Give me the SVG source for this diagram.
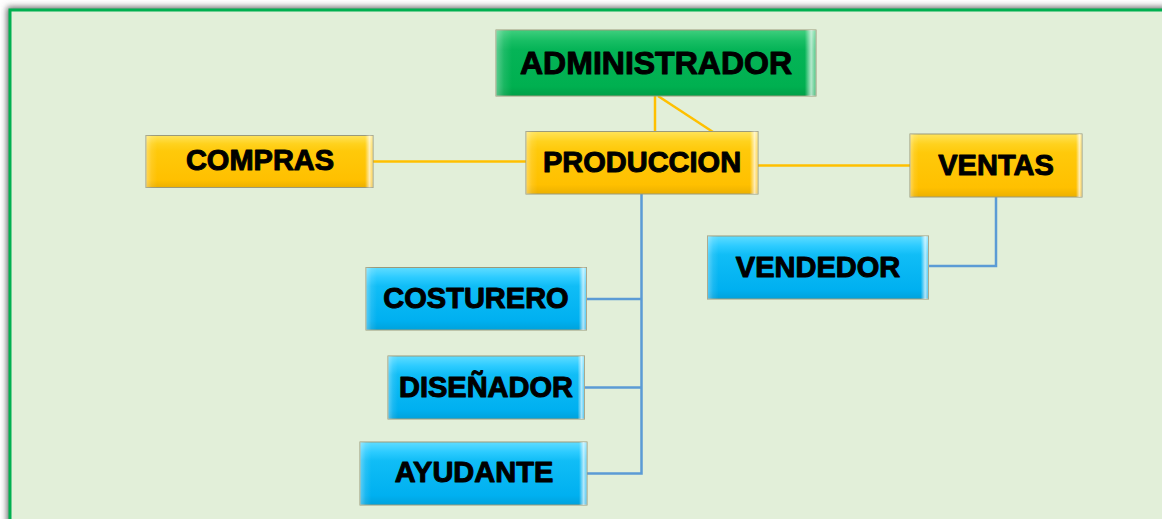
<svg xmlns="http://www.w3.org/2000/svg" width="1162" height="519" viewBox="0 0 1162 519">
<defs>
<filter id="blur" x="-5%" y="-5%" width="110%" height="110%"><feGaussianBlur stdDeviation="3"/></filter>
<linearGradient id="gY" x1="0" y1="0" x2="0" y2="1">
<stop offset="0" stop-color="#ffe35a"/><stop offset="0.16" stop-color="#ffd21e"/><stop offset="0.3" stop-color="#ffc90a"/><stop offset="0.85" stop-color="#ffc000"/><stop offset="1" stop-color="#ecb000"/>
</linearGradient>
<linearGradient id="gG" x1="0" y1="0" x2="0" y2="1">
<stop offset="0" stop-color="#3fcf7e"/><stop offset="0.16" stop-color="#18be64"/><stop offset="0.3" stop-color="#05b457"/><stop offset="0.85" stop-color="#00b050"/><stop offset="1" stop-color="#00a048"/>
</linearGradient>
<linearGradient id="gB" x1="0" y1="0" x2="0" y2="1">
<stop offset="0" stop-color="#5fdcff"/><stop offset="0.16" stop-color="#2ccbff"/><stop offset="0.3" stop-color="#10bdf6"/><stop offset="0.85" stop-color="#00b0f0"/><stop offset="1" stop-color="#00a2dc"/>
</linearGradient>
<linearGradient id="gH" x1="0" y1="0" x2="1" y2="0">
<stop offset="0" stop-color="#fff" stop-opacity="0.35"/><stop offset="0.025" stop-color="#fff" stop-opacity="0.1"/><stop offset="0.05" stop-color="#fff" stop-opacity="0"/><stop offset="0.965" stop-color="#fff" stop-opacity="0"/><stop offset="0.985" stop-color="#fff" stop-opacity="0.7"/><stop offset="1" stop-color="#fff" stop-opacity="0.3"/>
</linearGradient>
</defs>
<style>
.box{stroke:#9a9a7a;stroke-width:1}
.y{fill:url(#gY)}
.g{fill:url(#gG)}
.b{fill:url(#gB)}
.hl{fill:url(#gH);stroke:none}
.t{font-family:"Liberation Sans",Arial,sans-serif;font-weight:bold;font-size:29px;fill:#000;stroke:#000;stroke-width:1;stroke-linejoin:round;text-anchor:middle}
.cy{stroke:#ffc000;stroke-width:2.5;fill:none}
.cb{stroke:#5b9bd5;stroke-width:2.5;fill:none}
</style>
<rect x="0" y="0" width="1162" height="519" fill="#fff"/>
<rect x="7" y="7" width="1170" height="530" fill="#666" filter="url(#blur)"/>
<rect x="10" y="10" width="1170" height="530" fill="#e2efd9" stroke="#00b050" stroke-width="3"/>
<g id="connectors">
<line class="cy" x1="655" y1="96" x2="655" y2="132"/>
<line class="cy" x1="658" y1="96" x2="713" y2="132"/>
<line class="cy" x1="373" y1="161.5" x2="526" y2="161.5"/>
<line class="cy" x1="758" y1="165.5" x2="910" y2="165.5"/>
<polyline class="cb" points="996,197 996,266 928,266"/>
<polyline class="cb" points="641.5,194 641.5,473.5 587,473.5"/>
<line class="cb" x1="586" y1="299" x2="641.5" y2="299"/>
<line class="cb" x1="584" y1="387.5" x2="641.5" y2="387.5"/>
</g>
<g id="administrador">
<rect class="box g" x="496" y="30" width="320" height="66"/><rect class="hl" x="496" y="30" width="320" height="66"/>
<text class="t" x="656" y="74" style="font-size:32px">ADMINISTRADOR</text>
</g>
<g id="produccion">
<rect class="box y" x="526" y="131.5" width="232" height="62.5"/><rect class="hl" x="526" y="131.5" width="232" height="62.5"/>
<text class="t" x="642" y="172">PRODUCCION</text>
</g>
<g id="compras">
<rect class="box y" x="146" y="135.5" width="227" height="52"/><rect class="hl" x="146" y="135.5" width="227" height="52"/>
<text class="t" x="260" y="170">COMPRAS</text>
</g>
<g id="ventas">
<rect class="box y" x="910" y="134" width="172" height="63"/><rect class="hl" x="910" y="134" width="172" height="63"/>
<text class="t" x="996" y="175">VENTAS</text>
</g>
<g id="vendedor">
<rect class="box b" x="707.5" y="236" width="221" height="63"/><rect class="hl" x="707.5" y="236" width="221" height="63"/>
<text class="t" x="818" y="277">VENDEDOR</text>
</g>
<g id="costurero">
<rect class="box b" x="366" y="267.5" width="220.5" height="62.5"/><rect class="hl" x="366" y="267.5" width="220.5" height="62.5"/>
<text class="t" x="476" y="308">COSTURERO</text>
</g>
<g id="disenador">
<rect class="box b" x="388" y="356" width="196.5" height="63"/><rect class="hl" x="388" y="356" width="196.5" height="63"/>
<text class="t" x="486" y="397">DISEÑADOR</text>
</g>
<g id="ayudante">
<rect class="box b" x="360" y="442" width="227" height="63"/><rect class="hl" x="360" y="442" width="227" height="63"/>
<text class="t" x="474" y="482">AYUDANTE</text>
</g>
</svg>
